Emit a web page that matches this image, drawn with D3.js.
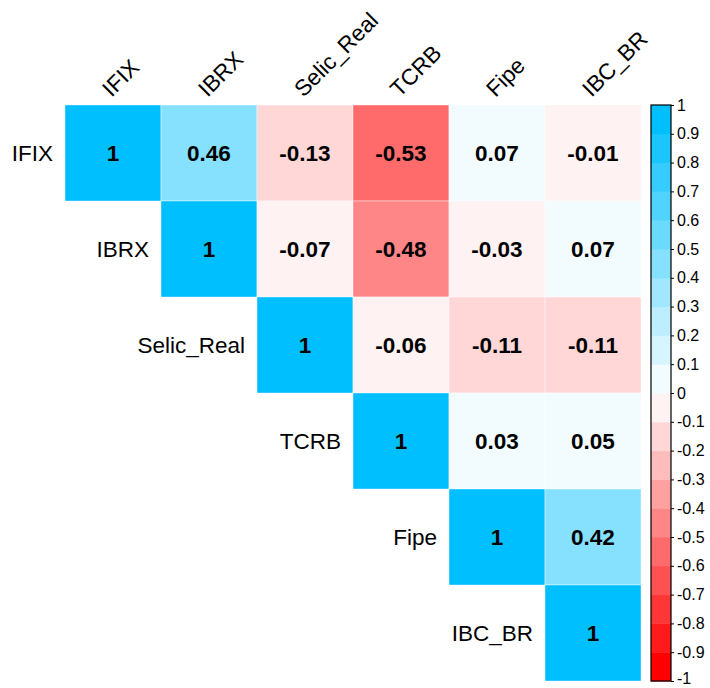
<!DOCTYPE html>
<html>
<head>
<meta charset="utf-8">
<script src="https://cdn.jsdelivr.net/npm/d3@7"></script>
<style>
html,body{margin:0;padding:0;background:#fff;}
svg{display:block;font-family:"Liberation Sans",Arial,sans-serif;}
</style>
</head>
<body>
<svg id="chart" width="710" height="688"></svg>
<script>
const variables = ["IFIX", "IBRX", "Selic_Real", "TCRB", "Fipe", "IBC_BR"];
// upper triangle rows (from diagonal onward)
const rowIFIX = [1, 0.46, -0.13, -0.53, 0.07, -0.01];
const rowIBRX = [1, -0.07, -0.48, -0.03, 0.07];
const rowSelic = [1, -0.06, -0.11, -0.11];
const rowTCRB = [1, 0.03, 0.05];
const rowFipe = [1, 0.42];
const rowIBC = [1];
const rows = [rowIFIX, rowIBRX, rowSelic, rowTCRB, rowFipe, rowIBC];
const legendTicks = [1, 0.9, 0.8, 0.7, 0.6, 0.5, 0.4, 0.3, 0.2, 0.1, 0, -0.1, -0.2, -0.3, -0.4, -0.5, -0.6, -0.7, -0.8, -0.9, -1];

const nBins = 20;
const ramp = d3.scaleLinear().domain([0, 0.5, 1]).range(["#FF0000", "#FFFFFF", "#00BFFF"]).interpolate(d3.interpolateRgb);
const palette = d3.range(nBins).map(i => ramp(i / (nBins - 1)));
function colorOf(v) {
  const idx = Math.max(0, Math.min(nBins - 1, Math.floor((v + 1) / 2 * nBins + 1e-9)));
  return palette[idx];
}
const fmt = v => String(v);

const cells = [];
rows.forEach((r, i) => r.forEach((v, k) => cells.push({row: variables[i], col: variables[i + k], value: v})));

const svg = d3.select("#chart");
const x = d3.scaleBand().domain(variables).range([65, 641]);
const y = d3.scaleBand().domain(variables).range([105, 681]);
const fs = 22.5;

svg.append("g").selectAll("rect").data(cells).join("rect")
  .attr("x", d => x(d.col)).attr("y", d => y(d.row))
  .attr("width", x.bandwidth()).attr("height", y.bandwidth())
  .attr("fill", d => colorOf(d.value))
  .attr("stroke", "#ffffff").attr("stroke-width", 0.4);

svg.append("g").selectAll("text").data(cells).join("text")
  .attr("x", d => x(d.col) + x.bandwidth() / 2)
  .attr("y", d => y(d.row) + y.bandwidth() / 2)
  .attr("text-anchor", "middle").attr("dominant-baseline", "central")
  .attr("font-weight", "bold").attr("font-size", fs).attr("fill", "#000")
  .text(d => fmt(d.value));

// row labels on diagonal left
svg.append("g").selectAll("text").data(variables).join("text")
  .attr("x", d => x(d) - 12)
  .attr("y", d => y(d) + y.bandwidth() / 2)
  .attr("text-anchor", "end").attr("dominant-baseline", "central")
  .attr("font-size", fs).attr("fill", "#000")
  .text(d => d);

// column labels rotated
svg.append("g").selectAll("text").data(variables).join("text")
  .attr("transform", d => `translate(${x(d) + x.bandwidth() / 2 - 1.5},${98}) rotate(-45)`)
  .attr("text-anchor", "start")
  .attr("font-size", fs).attr("fill", "#000")
  .text(d => d);

// legend
const ly = d3.scaleLinear().domain([-1, 1]).range([681, 105]);
const lx0 = 651, lw = 20;
const bins = d3.range(nBins).map(i => ({lo: -1 + i * 0.1, hi: -1 + (i + 1) * 0.1, color: palette[i]}));
svg.append("g").selectAll("rect").data(bins).join("rect")
  .attr("x", lx0).attr("y", d => ly(d.hi)).attr("width", lw)
  .attr("height", d => ly(d.lo) - ly(d.hi) + 0.5)
  .attr("fill", d => d.color);
svg.append("rect").attr("x", lx0).attr("y", ly(1)).attr("width", lw).attr("height", ly(-1) - ly(1))
  .attr("fill", "none").attr("stroke", "#000").attr("stroke-width", 1.2);
const axis = d3.axisRight(ly).tickValues(legendTicks).tickSize(3).tickPadding(3).tickFormat(fmt);
const ag = svg.append("g").attr("transform", `translate(${lx0 + lw},0)`).call(axis);
ag.select(".domain").remove();
ag.selectAll("text").attr("font-size", 16).attr("font-family", "Liberation Sans, Arial, sans-serif").attr("fill", "#000");
ag.selectAll(".tick").filter(d => d === -1).select("text").attr("y", -3);
ag.selectAll("line").attr("stroke", "#000");
</script>
</body>
</html>
